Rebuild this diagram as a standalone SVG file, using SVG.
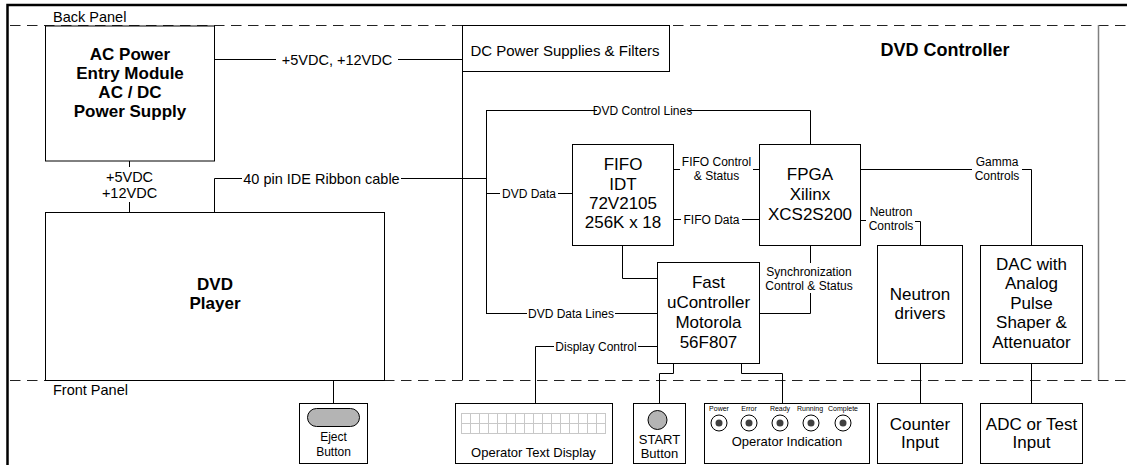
<svg xmlns="http://www.w3.org/2000/svg" width="1127" height="465" viewBox="0 0 1127 465">
<style>
text{font-family:"Liberation Sans",Arial,sans-serif;fill:#000}
.b{fill:#fff;stroke:#000;stroke-width:1}
.c{fill:none;stroke:#000;stroke-width:1}
.t17{font-size:17px;text-anchor:middle}
.t17b{font-size:17px;font-weight:bold;text-anchor:middle}
.l{font-size:12px;text-anchor:middle}
.m{font-size:14.5px;text-anchor:middle}
.s{font-size:13px;text-anchor:middle}
.xs{font-size:7px;text-anchor:middle}
.dash{fill:none;stroke:#222;stroke-width:1.2;stroke-dasharray:10.5 6.5}
.grid{fill:none;stroke:#c8c8c8;stroke-width:1}
</style>
<rect width="1127" height="465" fill="#fff"/>
<g id="frame">
<path d="M7.5,465 V5 H1127" fill="none" stroke="#000" stroke-width="2.5"/>
<line class="dash" x1="10" y1="25.5" x2="1127" y2="25.5"/>
<line class="dash" x1="10" y1="380.5" x2="1127" y2="380.5"/>
<text x="53" y="22" style="font-size:14.5px">Back Panel</text>
<text x="53" y="395" style="font-size:14.5px">Front Panel</text>
</g>
<g id="controller">
<line x1="462.5" y1="25" x2="462.5" y2="380" stroke="#000" stroke-width="1"/>
<line x1="1098.5" y1="25" x2="1098.5" y2="380" stroke="#808080" stroke-width="1.5"/>
<text x="945" y="56" style="font-size:18px;font-weight:bold;text-anchor:middle">DVD Controller</text>
</g>
<g id="connectors">
<path class="c" d="M214,59.5 H276 M398,59.5 H462"/>
<text class="m" x="337" y="64.5">+5VDC, +12VDC</text>
<path class="c" d="M129.5,161 V167 M129.5,202 V212"/>
<text class="m" x="129.5" y="182">+5VDC</text>
<text class="m" x="129.5" y="198">+12VDC</text>
<path class="c" d="M214.5,212 V178.5 H242 M401,178.5 H486"/>
<text class="m" x="321.5" y="183.5">40 pin IDE Ribbon cable</text>
<path class="c" d="M486.5,110.5 V313.5"/>
<path class="c" d="M486,110.5 H597 M688,110.5 H810.5 V144"/>
<text class="l" x="642.5" y="114.5">DVD Control Lines</text>
<path class="c" d="M486,193.5 H500 M558,193.5 H572"/>
<text class="l" x="529" y="197.5">DVD Data</text>
<path class="c" d="M486,313.5 H527 M615,313.5 H657"/>
<text class="l" x="571" y="317.5">DVD Data Lines</text>
<path class="c" d="M673,169.5 H680 M753,169.5 H759"/>
<text class="l" x="716.5" y="166">FIFO Control</text>
<text class="l" x="716.5" y="180">&amp; Status</text>
<path class="c" d="M673,219.5 H681 M742,219.5 H759"/>
<text class="l" x="711.5" y="223.5">FIFO Data</text>
<path class="c" d="M622.5,245 V278.5 H657"/>
<path class="c" d="M810.5,245 V263 M810.5,293 V313.5 H759"/>
<text class="l" x="809" y="276">Synchronization</text>
<text class="l" x="809" y="290">Control &amp; Status</text>
<path class="c" d="M657,346.5 H638 M554,346.5 H535.5 V403"/>
<text class="l" x="596" y="350.5">Display Control</text>
<path class="c" d="M861,169.5 H972 M1022,169.5 H1031.5 V245"/>
<text class="l" x="997" y="166">Gamma</text>
<text class="l" x="997" y="180">Controls</text>
<path class="c" d="M861,220.5 H866 M915,221.5 H920.5 V245"/>
<text class="l" x="891" y="216">Neutron</text>
<text class="l" x="891" y="230">Controls</text>
<path class="c" d="M920.5,363 V403"/>
<path class="c" d="M1031.5,363 V403"/>
<path class="c" d="M333.5,380 V403"/>
<path class="c" d="M673.5,363 V373.5 H659.5 V403"/>
<path class="c" d="M741.5,363 V373.5 H782.5 V403"/>
</g>
<g id="ac-power">
<rect class="b" x="45.5" y="26" width="169" height="135"/>
<text class="t17b" x="130" y="59.5">AC Power</text>
<text class="t17b" x="130" y="78.5">Entry Module</text>
<text class="t17b" x="130" y="97.5">AC / DC</text>
<text class="t17b" x="130" y="116.5">Power Supply</text>
</g>
<g id="dc-power">
<rect class="b" x="462.5" y="25.5" width="207" height="46"/>
<text x="565" y="56" style="font-size:15px;text-anchor:middle">DC Power Supplies &amp; Filters</text>
</g>
<g id="dvd-player">
<rect class="b" x="45.5" y="212.5" width="339" height="168"/>
<text class="t17b" x="215" y="290">DVD</text>
<text class="t17b" x="215" y="309">Player</text>
</g>
<g id="fifo">
<rect class="b" x="572.5" y="144.5" width="101" height="101"/>
<text class="t17" x="623" y="170">FIFO</text>
<text class="t17" x="623" y="189.5">IDT</text>
<text class="t17" x="623" y="208.5">72V2105</text>
<text class="t17" x="623" y="228">256K x 18</text>
</g>
<g id="fpga">
<rect class="b" x="759.5" y="144.5" width="101" height="101"/>
<text class="t17" x="810" y="179.5">FPGA</text>
<text class="t17" x="810" y="199.5">Xilinx</text>
<text class="t17" x="810" y="220">XCS2S200</text>
</g>
<g id="ucontroller">
<rect class="b" x="657.5" y="262.5" width="102" height="101"/>
<text class="t17" x="708.5" y="288">Fast</text>
<text class="t17" x="708.5" y="308">uController</text>
<text class="t17" x="708.5" y="328">Motorola</text>
<text class="t17" x="708.5" y="347.5">56F807</text>
</g>
<g id="neutron-drivers">
<rect class="b" x="877.5" y="245.5" width="85" height="118"/>
<text class="t17" x="920" y="299.5">Neutron</text>
<text class="t17" x="920" y="318.5">drivers</text>
</g>
<g id="dac">
<rect class="b" x="980.5" y="245.5" width="102" height="118"/>
<text class="t17" x="1031.5" y="269.5">DAC with</text>
<text class="t17" x="1031.5" y="289">Analog</text>
<text class="t17" x="1031.5" y="308.5">Pulse</text>
<text class="t17" x="1031.5" y="328">Shaper &amp;</text>
<text class="t17" x="1031.5" y="347.5">Attenuator</text>
</g>
<g id="eject-button">
<rect class="b" x="299.5" y="403.5" width="68" height="60"/>
<rect x="307.5" y="408.5" width="52" height="18" rx="9" fill="#b4b4b4" stroke="#000" stroke-width="1"/>
<text class="l" x="333.5" y="441">Eject</text>
<text class="l" x="333.5" y="456">Button</text>
</g>
<g id="operator-text-display">
<rect class="b" x="455.5" y="403.5" width="157" height="60"/>
<rect class="grid" x="461.5" y="413.5" width="144" height="20"/>
<path class="grid" d="M461.5,423.5 H605.5 M470.5,413.5 V433.5 M479.5,413.5 V433.5 M488.5,413.5 V433.5 M497.5,413.5 V433.5 M506.5,413.5 V433.5 M515.5,413.5 V433.5 M524.5,413.5 V433.5 M533.5,413.5 V433.5 M542.5,413.5 V433.5 M551.5,413.5 V433.5 M560.5,413.5 V433.5 M569.5,413.5 V433.5 M578.5,413.5 V433.5 M587.5,413.5 V433.5 M596.5,413.5 V433.5"/>
<text class="s" x="533.5" y="457">Operator Text Display</text>
</g>
<g id="start-button">
<rect class="b" x="633.5" y="403.5" width="52" height="60"/>
<circle cx="657.5" cy="420" r="9.5" fill="#b4b4b4" stroke="#000" stroke-width="1"/>
<text class="s" x="659.5" y="443.5">START</text>
<text class="s" x="659.5" y="457.5">Button</text>
</g>
<g id="operator-indication">
<rect class="b" x="704.5" y="403.5" width="165" height="60"/>
<text class="xs" x="719" y="411">Power</text>
<text class="xs" x="749" y="411">Error</text>
<text class="xs" x="780" y="411">Ready</text>
<text class="xs" x="810" y="411">Running</text>
<text class="xs" x="843" y="411">Complete</text>
<g fill="#fff" stroke="#000" stroke-width="1">
<circle cx="719" cy="423" r="8"/><circle cx="749" cy="423" r="8"/><circle cx="780" cy="423" r="8"/><circle cx="811" cy="423" r="8"/><circle cx="843" cy="423" r="8"/>
</g>
<g fill="#404040">
<circle cx="719" cy="423" r="3.5"/><circle cx="749" cy="423" r="3.5"/><circle cx="780" cy="423" r="3.5"/><circle cx="811" cy="423" r="3.5"/><circle cx="843" cy="423" r="3.5"/>
</g>
<text class="s" x="787" y="446">Operator Indication</text>
</g>
<g id="counter-input">
<rect class="b" x="877.5" y="403.5" width="85" height="60"/>
<text class="t17" x="920" y="429.5">Counter</text>
<text class="t17" x="920" y="447.5">Input</text>
</g>
<g id="adc-input">
<rect class="b" x="980.5" y="403.5" width="102" height="60"/>
<text class="t17" x="1031.5" y="429.5">ADC or Test</text>
<text class="t17" x="1031.5" y="447.5">Input</text>
</g>
</svg>
